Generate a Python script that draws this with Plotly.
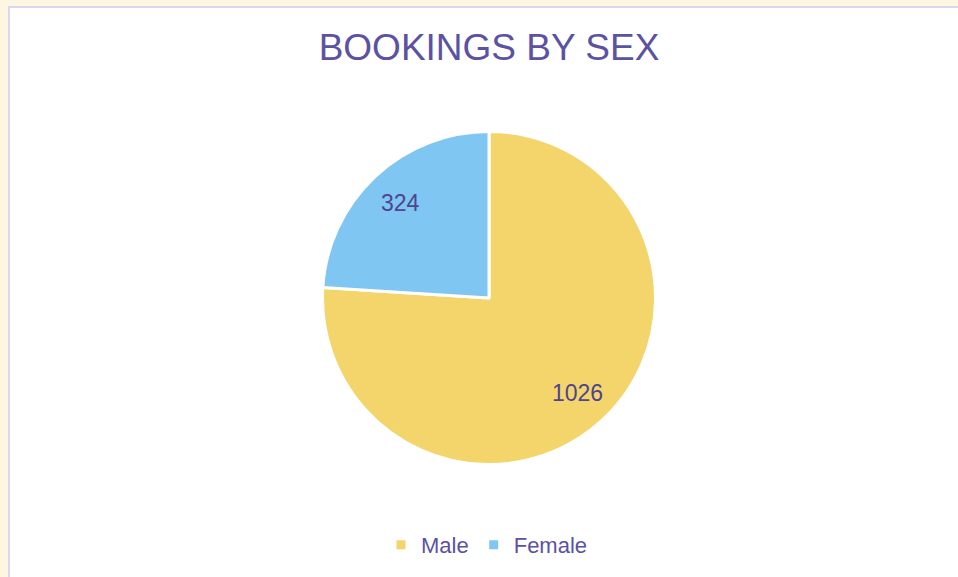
import math
import plotly.graph_objects as go

categories = ["Male", "Female"]
values = [1026, 324]
colors = ["#F3D56B", "#7FC6F2"]

W, H = 958, 577
cx, cy, r = 489, 298, 166.5
FONT = "Liberation Sans, Arial, sans-serif"

fig = go.Figure()
fig.add_trace(go.Pie(
    labels=categories,
    values=values,
    sort=False,
    direction="clockwise",
    rotation=0,
    marker=dict(colors=colors, line=dict(color="white", width=3)),
    textinfo="none",
    domain=dict(x=[(cx - r) / W, (cx + r) / W], y=[1 - (cy + r) / H, 1 - (cy - r) / H]),
    hoverinfo="label+value+percent",
))

# data labels placed along each slice's mid-angle (derived from the values)
total = sum(values)
cum = 0
for v in values:
    theta = 2 * math.pi * (cum + v / 2) / total
    cum += v
    px = cx + 0.78 * r * math.sin(theta)
    py = cy - 0.78 * r * math.cos(theta)
    fig.add_annotation(x=px / W, y=1 - py / H, xref="paper", yref="paper",
                       text=str(v), showarrow=False, xanchor="center", yanchor="middle",
                       font=dict(family=FONT, size=23, color="#4E4490"))

fig.add_shape(type="rect", xref="paper", yref="paper",
              x0=9 / W, x1=1.05, y0=-0.05, y1=1 - 7 / H,
              fillcolor="white", line=dict(color="#DCD6EE", width=2), layer="below")

fig.update_layout(
    width=W, height=H,
    margin=dict(l=0, r=0, t=0, b=0),
    paper_bgcolor="#FDF6E1",
    plot_bgcolor="white",
    title=dict(text="BOOKINGS BY SEX", x=489 / W, xanchor="center", y=1 - 47 / H, yanchor="middle",
               font=dict(family=FONT, size=37, color="#5B52A3")),
    showlegend=True,
    legend=dict(orientation="h", x=487 / W, xanchor="center", y=1 - 545 / H, yanchor="middle",
                font=dict(family=FONT, size=22, color="#5B52A3"),
                bgcolor="rgba(0,0,0,0)", itemwidth=30),
)

fig.write_html("out.html", config={"displayModeBar": False},
               post_script="document.body.style.margin='0';document.body.style.overflow='hidden';")
